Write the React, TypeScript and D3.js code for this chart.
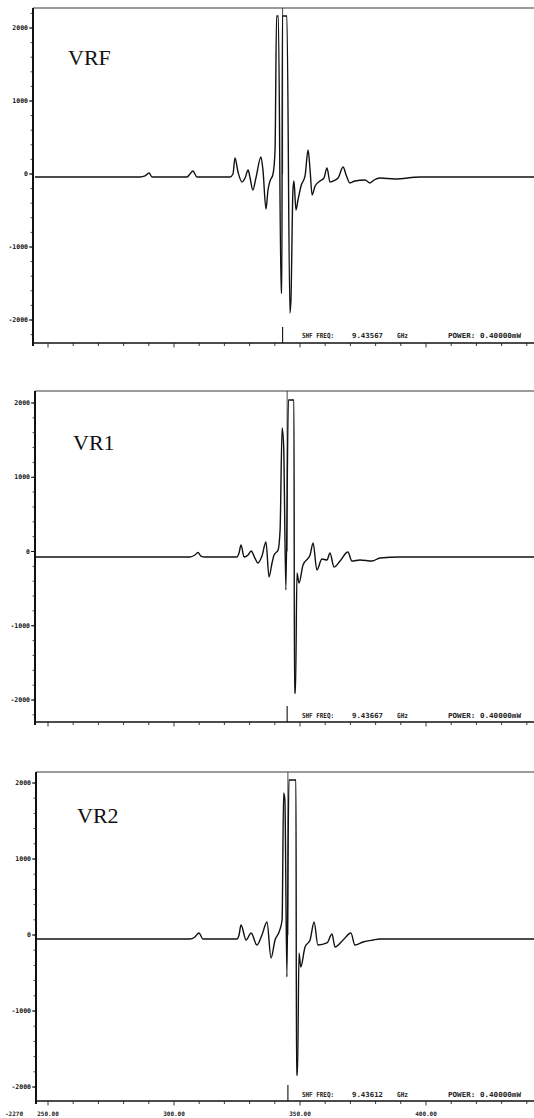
import React from "react";
import * as d3 from "d3";

// Field axis (shared by the three traces)
const fieldTicks = [250, 300, 350, 400];
const fieldTickLabels = ["250.00", "300.00", "350.00", "400.00"];
const cornerLabel = "-2270";

// Signal axis
const yTicks = [2000, 1000, 0, -1000, -2000];
const yTickLabels = ["2000", "1000", "0", "-1000", "-2000"];

// Trace names and instrument read-outs
const panelNames = ["VRF", "VR1", "VR2"];
const shfFreqs = ["9.43567", "9.43667", "9.43612"];
const powerText = "POWER: 0.40000mW";
const markerFields = [343.1, 344.9, 345.2];

// VRF trace
const vrfField = [
  244.8, 286.5, 288.5, 290.1, 291.3, 305.2, 306.3, 307.5, 309.1, 322.2, 323.4, 324.2, 325.4,
  327.0, 328.2, 329.4, 330.2, 331.3, 332.5, 334.5, 335.3, 336.5, 337.3, 338.1, 339.3, 340.1,
  340.7, 341.4, 342.5, 342.8, 343.0, 344.8, 346.0, 346.4, 347.2, 347.6, 348.4, 349.2, 350.4,
  352.0, 353.2, 354.0, 354.8, 356.0, 357.9, 359.5, 360.7, 361.9, 363.1, 365.1, 367.1, 368.3,
  369.8, 371.8, 375.8, 377.8, 379.4, 381.7, 387.7, 397.6, 443.0,
];
const vrfSignal = [
  -41, -41, -27, 14, -41, -41, 0, 41, -41, -41, 0, 219, 27,
  -110, -55, 55, -55, -219, -55, 233, 55, -480, -219, -96, 0, 329,
  2165, 2165, -1630, -1630, 2165, 2165, -1904, -1726, -219, -96, -493, -356, -164,
  -27, 329, 55, -288, -164, -96, -55, 82, -110, -96, -55, 96, -14,
  -123, -96, -82, -123, -82, -55, -68, -41, -41,
];

// VR1 trace
const vr1Field = [
  245.2, 306.3, 308.3, 309.5, 310.7, 312.3, 325.0, 325.8, 326.6, 327.8, 329.4, 330.6, 332.1,
  333.3, 334.9, 336.5, 337.7, 338.9, 339.7, 341.3, 342.1, 342.9, 343.5, 344.4, 345.4, 347.6,
  347.8, 348.2, 348.8, 349.6, 351.2, 354.0, 355.2, 356.7, 358.7, 360.7, 361.9, 363.5, 365.9,
  369.0, 370.6, 373.8, 378.6, 381.7, 389.7, 443.0,
];
const vr1Signal = [
  -74, -74, -47, -13, -61, -74, -74, -20, 88, -74, -47, 7, -88,
  -155, -61, 128, -343, -155, -47, 20, 290, 1663, 1435, -519, 2041, 2041,
  -1906, -1906, -290, -424, -182, -47, 115, -249, -101, -114, -20, -209, -128,
  -7, -128, -114, -128, -88, -74, -74,
];

// VR2 trace
const vr2Field = [
  245.2, 306.3, 308.3, 309.9, 311.5, 325.0, 325.8, 326.6, 328.6, 330.6, 332.9, 334.9, 336.9,
  338.5, 340.1, 341.7, 342.9, 343.5, 344.0, 344.8, 345.6, 348.4, 348.6, 349.0, 349.6, 350.3,
  352.0, 354.0, 355.6, 357.1, 360.7, 362.7, 363.9, 367.1, 370.2, 371.8, 375.0, 379.0, 381.7,
  443.0,
];
const vr2Signal = [
  -53, -53, -26, 26, -53, -53, 0, 132, -66, 26, -132, 0, 171,
  -303, -66, 39, 197, 1869, 1777, -553, 2040, 2040, -1842, -1842, -237, -421,
  -158, -66, 171, -132, -105, 13, -158, -66, 26, -132, -92, -66, -53,
  -53,
];

const traces = [
  { field: vrfField, signal: vrfSignal },
  { field: vr1Field, signal: vr1Signal },
  { field: vr2Field, signal: vr2Signal },
];

// Frame geometry of each stacked panel
const layouts = [
  { top: 8, bottom: 343, left: 33, y2000: 28, yM2000: 320, labelX: 68, labelY: 65, textY: 338 },
  { top: 391, bottom: 722, left: 35, y2000: 403, yM2000: 700, labelX: 73, labelY: 450, textY: 718 },
  { top: 772, bottom: 1101, left: 36, y2000: 783, yM2000: 1087, labelX: 77, labelY: 823, textY: 1097 },
];

const W = 534;
const H = 1118;
const mono = "'DejaVu Sans Mono', monospace";

const x = d3.scaleLinear().domain([250, 400]).range([48, 426]);

function Panel({ i }: { i: number }) {
  const L = layouts[i];
  const y = d3.scaleLinear().domain([-2000, 2000]).range([L.yM2000, L.y2000]);
  const tr = traces[i];
  const pts: [number, number][] = tr.field.map((f, k) => [f, tr.signal[k]]);
  const line = d3
    .line<[number, number]>()
    .curve(d3.curveMonotoneX)
    .x((d) => x(d[0]))
    .y((d) => y(d[1]));

  const minorY = d3.range(-3000, 3001, 200).filter((v) => {
    const py = y(v);
    return py > L.top + 2 && py < L.bottom - 2;
  });
  const minorX = d3.range(250, 450, 10).filter((v) => x(v) > L.left && x(v) < W);
  const mx = x(markerFields[i]);

  return (
    <g>
      {/* frame */}
      <line x1={L.left} x2={W} y1={L.top} y2={L.top} stroke="#222" strokeWidth={0.9} />
      <line x1={L.left} x2={W} y1={L.bottom} y2={L.bottom} stroke="#111" strokeWidth={1.3} />
      <line x1={L.left} x2={L.left} y1={L.top} y2={L.bottom + 3} stroke="#111" strokeWidth={2} />

      {/* y ticks */}
      {minorY.map((v) => (
        <line key={"my" + v} x1={L.left - 2.5} x2={L.left} y1={y(v)} y2={y(v)} stroke="#222" strokeWidth={0.8} />
      ))}
      {yTicks.map((v, k) => (
        <g key={"y" + v}>
          <line x1={L.left - 4} x2={L.left} y1={y(v)} y2={y(v)} stroke="#111" strokeWidth={1} />
          <text
            x={L.left - 5}
            y={y(v) + 2}
            textAnchor="end"
            fontFamily={mono}
            fontWeight="bold"
            fontSize={6.5}
            fill="#111"
          >
            {yTickLabels[k]}
          </text>
        </g>
      ))}

      {/* field ticks */}
      {minorX.map((v) => (
        <line
          key={"mx" + v}
          x1={x(v)}
          x2={x(v)}
          y1={L.bottom}
          y2={L.bottom + (v % 50 === 0 ? 4.5 : 3)}
          stroke="#222"
          strokeWidth={0.9}
        />
      ))}

      {/* centre-field marker */}
      <line x1={mx} x2={mx} y1={L.top} y2={y(0)} stroke="#333" strokeWidth={0.9} />
      <line x1={mx} x2={mx} y1={L.bottom - 16} y2={L.bottom} stroke="#111" strokeWidth={1.1} />

      {/* trace */}
      <path d={line(pts) || ""} fill="none" stroke="#111" strokeWidth={1.4} strokeLinejoin="round" />

      {/* trace name */}
      <text x={L.labelX} y={L.labelY} fontFamily="'Liberation Serif', 'Times New Roman', serif" fontSize={22} fill="#111">
        {panelNames[i]}
      </text>

      {/* read-outs */}
      <g fontFamily={mono} fontWeight="bold" fontSize={7} fill="#222">
        <text x={302} y={L.textY} textLength={32} lengthAdjust="spacingAndGlyphs">SHF FREQ:</text>
        <text x={352} y={L.textY} textLength={31} lengthAdjust="spacingAndGlyphs">{shfFreqs[i]}</text>
        <text x={397} y={L.textY} textLength={11} lengthAdjust="spacingAndGlyphs">GHz</text>
        <text x={448} y={L.textY} textLength={73} lengthAdjust="spacingAndGlyphs">{powerText}</text>
      </g>
    </g>
  );
}

export default function App() {
  return (
    <div style={{ position: "absolute", left: 0, top: 0, width: W, height: H, background: "#fff" }}>
      <svg width={W} height={H} viewBox={`0 0 ${W} ${H}`} style={{ display: "block" }}>
        <rect x={0} y={0} width={W} height={H} fill="#fff" />
        {layouts.map((_, i) => (
          <Panel key={i} i={i} />
        ))}
        <g fontFamily={mono} fontWeight="bold" fontSize={6} fill="#222">
          <text x={5} y={1116}>{cornerLabel}</text>
          {fieldTicks.map((v, k) => (
            <text key={v} x={x(v)} y={1116} textAnchor="middle">
              {fieldTickLabels[k]}
            </text>
          ))}
        </g>
      </svg>
    </div>
  );
}
